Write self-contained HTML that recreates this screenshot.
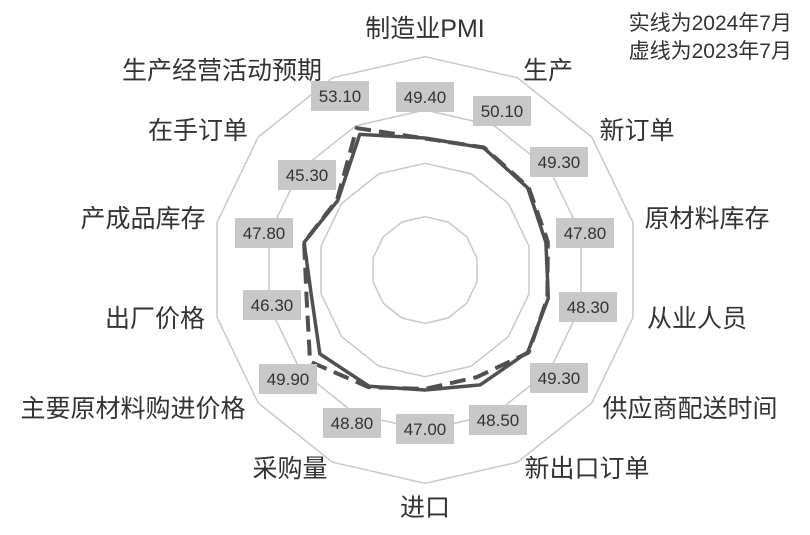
<!DOCTYPE html>
<html><head><meta charset="utf-8"><style>
html,body{margin:0;padding:0;background:#fff;}
svg{display:block;font-family:"Liberation Sans","Noto Sans CJK SC",sans-serif;}
.l{font-size:25px;fill:#333;text-anchor:middle;}
.b{font-size:17px;fill:#333;text-anchor:middle;}
</style></head><body>
<svg id="s" width="810" height="535" viewBox="0 0 810 535">
<g id="rings" fill="none" stroke="#c8c8c8" stroke-width="1.5"></g>
<polyline id="dash" fill="none" stroke="#505050" stroke-width="4" stroke-dasharray="16,8" stroke-linejoin="round"></polyline>
<polyline id="solid" fill="none" stroke="#505050" stroke-width="3.5" stroke-linejoin="round"></polyline>
<g id="boxes" fill="#c8c8c8"></g>
<g>
<text class="b" x="340" y="102">53.10</text>
<text class="b" x="425" y="103">49.40</text>
<text class="b" x="502" y="117">50.10</text>
<text class="b" x="559" y="168">49.30</text>
<text class="b" x="585" y="239">47.80</text>
<text class="b" x="588" y="313">48.30</text>
<text class="b" x="559" y="384">49.30</text>
<text class="b" x="498" y="426">48.50</text>
<text class="b" x="425" y="435">47.00</text>
<text class="b" x="352" y="429">48.80</text>
<text class="b" x="288" y="385">49.90</text>
<text class="b" x="272" y="311">46.30</text>
<text class="b" x="264" y="239">47.80</text>
<text class="b" x="307" y="181">45.30</text>
</g>
<g>
<text class="l" x="425" y="37">制造业PMI</text>
<text class="l" x="548" y="79">生产</text>
<text class="l" x="637" y="139">新订单</text>
<text class="l" x="707" y="227">原材料库存</text>
<text class="l" x="697" y="327">从业人员</text>
<text class="l" x="690" y="417">供应商配送时间</text>
<text class="l" x="587" y="477">新出口订单</text>
<text class="l" x="425" y="516">进口</text>
<text class="l" x="290" y="477">采购量</text>
<text class="l" x="133" y="417">主要原材料购进价格</text>
<text class="l" x="155" y="327">出厂价格</text>
<text class="l" x="143" y="227">产成品库存</text>
<text class="l" x="198" y="139">在手订单</text>
<text class="l" x="222" y="79">生产经营活动预期</text>
<text x="792" y="30" style="font-size:21px;fill:#333;text-anchor:end">实线为2024年7月</text>
<text x="792" y="58" style="font-size:21px;fill:#333;text-anchor:end">虚线为2023年7月</text>
</g>
</svg>
<script>
var cx=425,cy=270,n=14,ns="http://www.w3.org/2000/svg";
function pt(i,r){var a=i*2*Math.PI/n;return [cx+r*Math.sin(a),cy-r*Math.cos(a)];}
var rg=document.getElementById('rings');
[53.3,106.7,160,213.3].forEach(function(r){var p=[];for(var i=0;i<n;i++)p.push(pt(i,r).join(','));var e=document.createElementNS(ns,'polygon');e.setAttribute('points',p.join(' '));rg.appendChild(e);});
var s=[49.4,50.1,49.3,47.8,48.3,49.3,48.5,47.0,48.8,49.9,46.3,47.8,45.3,53.1];
var d=[49.3,50.2,49.5,48.2,48.1,49.5,46.8,46.8,49.0,52.4,47.3,47.8,45.5,54.5];
function line(v,id){var p=[];for(var i=0;i<=n;i++){var k=i%n;p.push(pt(k,132+5*(v[k]-49.4)).join(','));}document.getElementById(id).setAttribute('points',p.join(' '));}
line(d,'dash');line(s,'solid');
var bx=[[340,96],[425,97],[502,111],[559,162],[585,233],[588,307],[559,378],[498,420],[425,429],[352,423],[288,379],[272,305],[264,233],[307,175]];
var bg=document.getElementById('boxes');
bx.forEach(function(b){var e=document.createElementNS(ns,'rect');e.setAttribute('x',b[0]-29);e.setAttribute('y',b[1]-15);e.setAttribute('width',58);e.setAttribute('height',30);bg.appendChild(e);});
</script>
</body></html>
